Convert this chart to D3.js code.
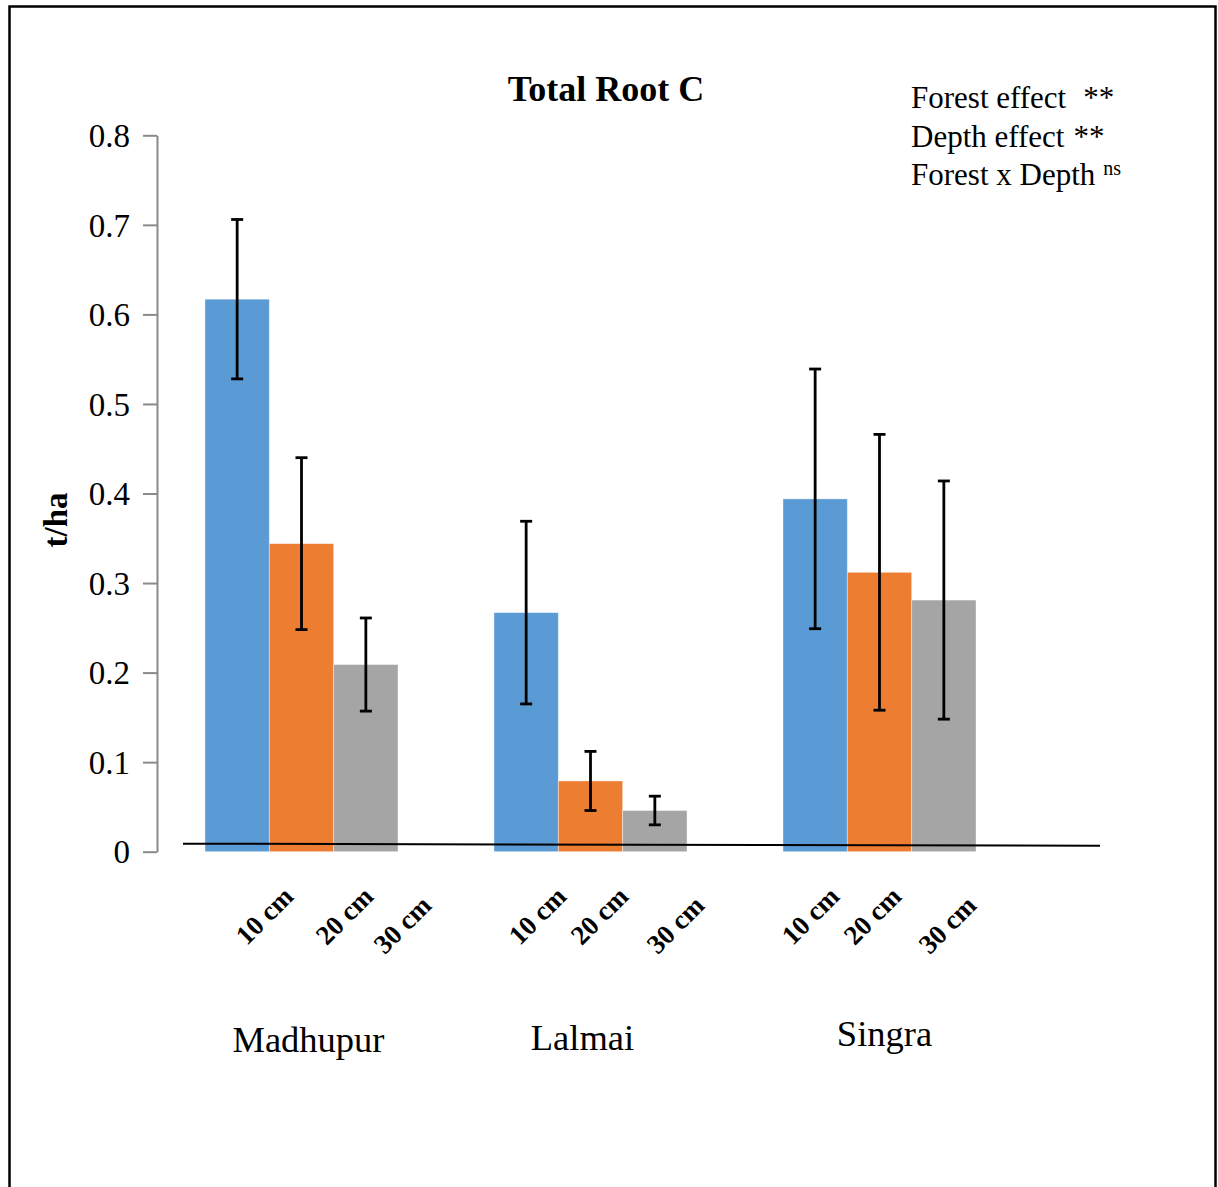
<!DOCTYPE html>
<html>
<head>
<meta charset="utf-8">
<script src="https://cdn.jsdelivr.net/npm/d3@7"></script>
<style>
  html, body { margin: 0; padding: 0; background: #fff; }
  svg { display: block; }
  text { font-family: "Liberation Serif", "Times New Roman", serif; fill: #000; }
</style>
</head>
<body>
<svg id="chart" width="1218" height="1187"></svg>
<script>
// Total root carbon (t/ha) by forest site and soil depth, mean with error
const forests = ["Madhupur", "Lalmai", "Singra"];
const depths = ["10 cm", "20 cm", "30 cm"];
const madhupurMean = [0.617, 0.344, 0.209];
const lalmaiMean   = [0.267, 0.079, 0.046];
const singraMean   = [0.394, 0.312, 0.281];
const madhupurErr  = [0.089, 0.096, 0.052];
const lalmaiErr    = [0.102, 0.033, 0.016];
const singraErr    = [0.145, 0.154, 0.133];
const yTicks = [0, 0.1, 0.2, 0.3, 0.4, 0.5, 0.6, 0.7, 0.8];
const depthColors = ["#5b9bd5", "#ed7d31", "#a5a5a5"];
const title = "Total Root C";
const yLabel = "t/ha";
const effects = [
  { label: "Forest effect", mark: "**", gap: 17, sup: false },
  { label: "Depth effect", mark: "**", gap: 9, sup: false },
  { label: "Forest x Depth", mark: "ns", gap: 8, sup: true }
];

const means = [madhupurMean, lalmaiMean, singraMean];
const errs = [madhupurErr, lalmaiErr, singraErr];
const rows = [];
forests.forEach((f, i) => depths.forEach((d, j) => {
  rows.push({ forest: f, depth: d, value: means[i][j], err: errs[i][j], i, j });
}));

const svg = d3.select("#chart");

// outer frame
svg.append("rect")
  .attr("x", 9.5).attr("y", 6.5)
  .attr("width", 1206).attr("height", 1200)
  .attr("fill", "none").attr("stroke", "#000").attr("stroke-width", 2.5);

const x = d3.scaleBand().domain(forests).range([157, 1024])
  .paddingInner(0.332).paddingOuter(0.166);
const xs = d3.scaleBand().domain(depths).range([0, x.bandwidth()]);
const y = d3.scaleLinear().domain([0, 0.8]).range([851.7, 135.3]);

// bars
svg.append("g").selectAll("rect").data(rows).join("rect")
  .attr("x", d => x(d.forest) + xs(d.depth))
  .attr("y", d => y(d.value))
  .attr("width", xs.bandwidth())
  .attr("height", d => y(0) - y(d.value))
  .attr("fill", d => depthColors[d.j])
  .attr("stroke", "rgba(255,255,255,0.5)")
  .attr("stroke-width", 0.8);

// y axis
const yAxis = d3.axisLeft(y).tickValues(yTicks)
  .tickFormat(d => d === 0 ? "0" : d3.format(".1f")(d))
  .tickSize(14).tickSizeOuter(0).tickPadding(13);
const ga = svg.append("g").attr("transform", "translate(157,0)").call(yAxis);
ga.selectAll("path, line").attr("stroke", "#8a8a8a").attr("stroke-width", 2);
ga.selectAll("text")
  .style("font-family", '"Liberation Serif", "Times New Roman", serif')
  .style("font-size", "33px").attr("fill", "#000").attr("dy", "0.34em");

// baseline rule drawn across the plot
svg.append("line")
  .attr("x1", x.range()[0] + 26).attr("y1", y(0) - 8)
  .attr("x2", 1100).attr("y2", y(0) - 6)
  .attr("stroke", "#000").attr("stroke-width", 2);

// error bars
const eb = svg.append("g").attr("stroke", "#000").attr("stroke-width", 2.8);
rows.forEach(d => {
  const cx = x(d.forest) + xs(d.depth) + xs.bandwidth() / 2;
  const hi = y(d.value + d.err), lo = y(d.value - d.err);
  eb.append("line").attr("x1", cx).attr("x2", cx).attr("y1", hi).attr("y2", lo);
  eb.append("line").attr("x1", cx - 6).attr("x2", cx + 6).attr("y1", hi).attr("y2", hi);
  eb.append("line").attr("x1", cx - 6).attr("x2", cx + 6).attr("y1", lo).attr("y2", lo);
});

// depth labels, rotated
const depthLabelX = d3.scaleBand().domain(forests).range([297, 1116]).padding(0);
const depthShift = [[0, 80, 138], [0, 62, 138], [0, 62, 137]];
const depthDrop = [0, 0, 9];
svg.append("g").selectAll("text").data(rows).join("text")
  .attr("transform", d => `translate(${depthLabelX(d.forest) + depthShift[d.i][d.j] - 2},${898 + depthDrop[d.j]}) rotate(-45)`)
  .attr("text-anchor", "end")
  .style("font-size", "27px").style("font-weight", "bold")
  .text(d => d.depth);

// forest labels
const forestLabelY = [1052, 1050, 1046];
svg.append("g").selectAll("text").data(forests).join("text")
  .attr("x", (d, i) => x(d) + x.bandwidth() / 2 + (i === 0 ? 7 : i === 1 ? -8 : 5))
  .attr("y", (d, i) => forestLabelY[i])
  .attr("text-anchor", "middle")
  .style("font-size", "36.5px")
  .text(d => d);

// title
svg.append("text")
  .attr("x", 606).attr("y", 101)
  .attr("text-anchor", "middle")
  .style("font-size", "36px").style("font-weight", "bold")
  .text(title);

// y label
svg.append("text")
  .attr("transform", "translate(67,520) rotate(-90)")
  .attr("text-anchor", "middle")
  .style("font-size", "33px").style("font-weight", "bold")
  .text(yLabel);

// significance notes
const notes = svg.append("g");
effects.forEach((e, i) => {
  const t = notes.append("text")
    .attr("x", 911).attr("y", 108 + i * 38.5)
    .style("font-size", "31px");
  t.append("tspan").text(e.label);
  if (e.sup) {
    t.append("tspan").attr("dx", e.gap).attr("dy", -10)
      .style("font-size", "20px").text(e.mark);
  } else {
    t.append("tspan").attr("dx", e.gap).text(e.mark);
  }
});
</script>
</body>
</html>
